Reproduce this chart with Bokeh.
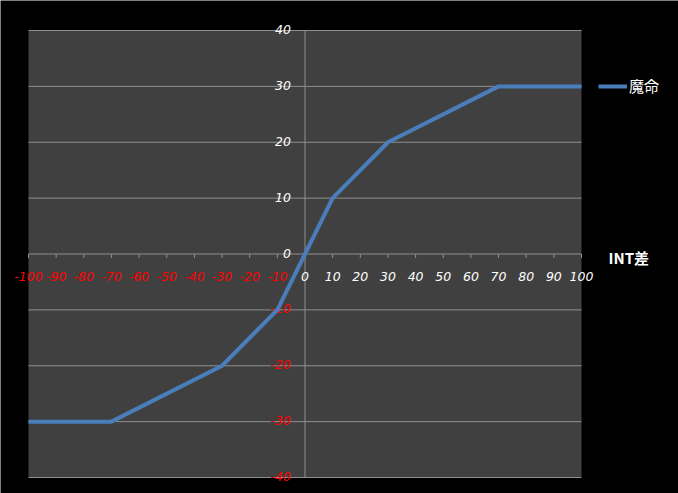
from bokeh.plotting import figure
from bokeh.models import Range1d, Legend, LegendItem, ColumnDataSource
from bokeh.core.properties import value
from bokeh.embed import file_html
from bokeh.resources import INLINE

# data
int_diff = [-100, -70, -30, -10, 0, 10, 30, 70, 100]
mamei = [-30, -30, -20, -10, 0, 10, 20, 30, 30]
series_name = "魔命"
x_title = "INT差"
x_ticks = list(range(-100, 101, 10))
y_ticks = list(range(-40, 41, 10))
x_min, x_max = -100, 100
y_min, y_max = -40, 40

BG = "#000000"
PLOT_BG = "#404040"
GRID = "#8e8e8e"
LINE = "#4a7ebb"
FONT = "DejaVu Sans"

W, H = 678, 493
# plot area occupies pixels 28..581 horizontally, 30..477 vertically
px_per_x = 553 / (x_max - x_min)
px_per_y = 447 / (y_max - y_min)
xr = Range1d(x_min - 28 / px_per_x, x_max + (W - 581) / px_per_x)
yr = Range1d(y_min - (H - 477) / px_per_y, y_max + 30 / px_per_y)

p = figure(frame_width=W, frame_height=H, output_backend="svg", toolbar_location=None,
           x_range=xr, y_range=yr, min_border=0,
           background_fill_color=BG, border_fill_color=BG)
p.outline_line_color = None
p.axis.visible = False
p.grid.visible = False

# plot area
p.quad(left=[x_min], right=[x_max], bottom=[y_min], top=[y_max],
       fill_color=PLOT_BG, line_color=None)

# horizontal gridlines
p.segment(x0=[x_min] * len(y_ticks), y0=y_ticks, x1=[x_max] * len(y_ticks), y1=y_ticks,
          line_color=GRID, line_width=1)
# vertical axis line at x=0
p.segment(x0=[0], y0=[y_min], x1=[0], y1=[y_max], line_color=GRID, line_width=1)

# x tick marks (down from axis)
p.segment(x0=x_ticks, y0=[0] * len(x_ticks), x1=x_ticks, y1=[-0.72] * len(x_ticks),
          line_color=GRID, line_width=1)

# x tick labels
xlab = ColumnDataSource(dict(x=x_ticks, y=[0] * len(x_ticks), t=[str(v) for v in x_ticks],
                             c=["#ff0000" if v < 0 else "#ffffff" for v in x_ticks]))
p.text(x="x", y="y", text="t", source=xlab, text_color="c", text_align="center",
       text_baseline="middle", y_offset=22, text_font=value(FONT), text_font_style="italic",
       text_font_size="12.5px")

# y tick labels
ylab = ColumnDataSource(dict(x=[0] * len(y_ticks), y=y_ticks, t=[str(v) for v in y_ticks],
                             c=["#ff0000" if v < 0 else "#ffffff" for v in y_ticks]))
p.text(x="x", y="y", text="t", source=ylab, text_color="c", text_align="right",
       text_baseline="middle", x_offset=-14, y_offset=-1, text_font=value(FONT),
       text_font_style="italic", text_font_size="12.5px")

r = p.line(int_diff, mamei, line_color=LINE, line_width=4)

legend = Legend(items=[LegendItem(label=series_name, renderers=[r])],
                location=(598, 397), padding=0, margin=0, spacing=0,
                glyph_width=29, glyph_height=20, label_height=20, label_standoff=2,
                background_fill_alpha=0, border_line_color=None,
                label_text_color="#ffffff", label_text_font="Noto Sans CJK JP",
                label_text_font_size="15px")
p.add_layout(legend, "center")

# axis title
p.text(x=[x_max], y=[0], text=[x_title], x_offset=27, y_offset=3, text_color="#ffffff",
       text_font=value("Noto Sans CJK JP"), text_font_style="bold",
       text_font_size="15px", text_baseline="middle", text_align="left")

open("out.html", "w").write(file_html(p, INLINE))
